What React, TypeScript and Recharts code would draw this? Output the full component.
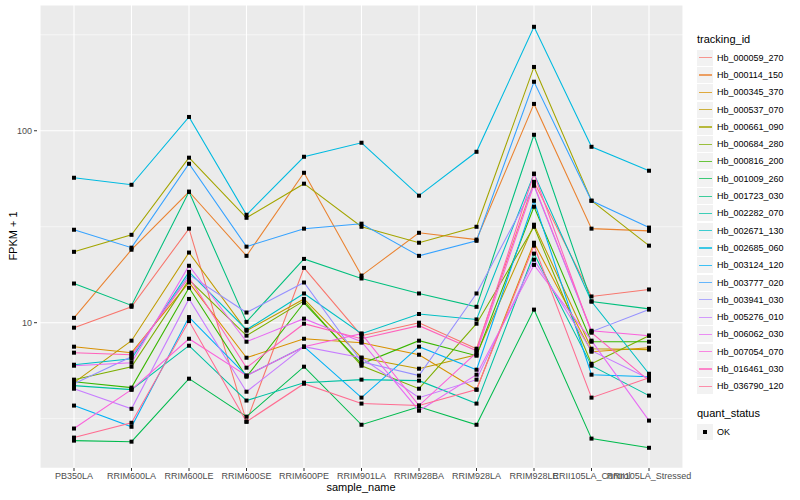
import React from 'react';
import { LineChart, Line, XAxis, YAxis, CartesianGrid } from 'recharts';

// sample names along the x axis
const samples = [
  'PB350LA', 'RRIM600LA', 'RRIM600LE', 'RRIM600SE', 'RRIM600PE', 'RRIM901LA',
  'RRIM928BA', 'RRIM928LA', 'RRIM928LE', 'RRII105LA_Control', 'RRII105LA_Stressed',
];

// FPKM + 1 per gene, one value per sample
const hb000059_270 = [9.42, 12.1, 30.9, 3.05, 19.3, 8.56, 10.0, 7.32, 54.2, 13.7, 14.9];
const hb000114_150 = [10.6, 24.0, 48.1, 22.3, 60.4, 17.6, 29.4, 27.1, 138, 30.9, 30.1];
const hb000345_370 = [7.5, 6.98, 16.2, 6.57, 8.25, 7.87, 6.81, 4.48, 26.1, 7.06, 7.41];
const hb000537_070 = [4.87, 8.06, 23.2, 9.08, 13.3, 6.57, 5.76, 6.81, 32.4, 7.32, 7.24];
const hb000661_090 = [23.4, 28.7, 72.4, 35.2, 53.0, 31.6, 26.1, 31.6, 215, 43.2, 25.2];
const hb000684_280 = [5.05, 5.9, 16.7, 8.56, 13.0, 5.97, 4.53, 9.88, 31.6, 6.11, 8.56];
const hb000816_200 = [4.93, 4.59, 15.2, 5.23, 12.7, 6.11, 8.06, 6.73, 40.2, 7.96, 7.96];
const hb001009_260 = [2.43, 2.4, 5.11, 3.24, 5.9, 2.94, 3.65, 2.94, 11.7, 2.49, 2.23];
const hb001723_030 = [16.0, 12.3, 48.1, 10.1, 21.5, 17.0, 14.2, 12.1, 95.3, 12.9, 11.8];
const hb002282_070 = [4.7, 4.48, 7.59, 3.93, 4.87, 5.05, 4.99, 3.79, 22.9, 5.97, 4.17];
const hb002671_130 = [6.04, 6.49, 18.4, 9.19, 14.2, 8.77, 11.1, 10.4, 59.7, 12.9, 5.42];
const hb002685_060 = [56.9, 52.3, 118, 36.5, 73.2, 86.6, 45.9, 77.7, 348, 82.5, 61.9];
const hb003124_120 = [3.7, 2.87, 10.7, 5.3, 7.5, 4.07, 7.5, 5.69, 43.2, 5.36, 5.23];
const hb003777_020 = [30.5, 24.6, 67.3, 24.9, 30.9, 32.8, 22.3, 26.7, 180, 43.2, 31.3];
const hb003941_030 = [4.81, 6.65, 17.8, 11.3, 16.2, 6.26, 5.3, 14.2, 51.7, 8.98, 11.7];
const hb005276_010 = [4.53, 3.56, 13.3, 4.37, 7.5, 6.57, 4.07, 5.05, 21.3, 7.15, 5.11];
const hb006062_030 = [5.97, 6.19, 19.8, 7.96, 10.5, 7.96, 3.48, 5.36, 20.0, 8.06, 3.09];
const hb007054_070 = [2.81, 4.48, 8.25, 5.3, 7.5, 8.77, 3.7, 6.98, 52.3, 9.08, 8.56];
const hb016461_030 = [6.98, 6.81, 17.2, 5.83, 9.88, 8.25, 9.65, 7.15, 59.7, 8.87, 4.99];
const hb036790_120 = [2.52, 3.01, 10.2, 3.05, 4.81, 3.79, 3.7, 4.48, 25.2, 4.07, 5.17];

const genes = [
  { id: 'Hb_000059_270', values: hb000059_270, color: '#F8766D' },
  { id: 'Hb_000114_150', values: hb000114_150, color: '#EA8331' },
  { id: 'Hb_000345_370', values: hb000345_370, color: '#D89000' },
  { id: 'Hb_000537_070', values: hb000537_070, color: '#C09B00' },
  { id: 'Hb_000661_090', values: hb000661_090, color: '#A3A500' },
  { id: 'Hb_000684_280', values: hb000684_280, color: '#7CAE00' },
  { id: 'Hb_000816_200', values: hb000816_200, color: '#39B600' },
  { id: 'Hb_001009_260', values: hb001009_260, color: '#00BB4E' },
  { id: 'Hb_001723_030', values: hb001723_030, color: '#00BF7D' },
  { id: 'Hb_002282_070', values: hb002282_070, color: '#00C1A3' },
  { id: 'Hb_002671_130', values: hb002671_130, color: '#00BFC4' },
  { id: 'Hb_002685_060', values: hb002685_060, color: '#00BAE0' },
  { id: 'Hb_003124_120', values: hb003124_120, color: '#00B0F6' },
  { id: 'Hb_003777_020', values: hb003777_020, color: '#35A2FF' },
  { id: 'Hb_003941_030', values: hb003941_030, color: '#9590FF' },
  { id: 'Hb_005276_010', values: hb005276_010, color: '#C77CFF' },
  { id: 'Hb_006062_030', values: hb006062_030, color: '#E76BF3' },
  { id: 'Hb_007054_070', values: hb007054_070, color: '#FA62DB' },
  { id: 'Hb_016461_030', values: hb016461_030, color: '#FF62BC' },
  { id: 'Hb_036790_120', values: hb036790_120, color: '#FF6C91' },
];

const yTicks = [3.1623, 10, 31.623, 100, 316.23];
const majorTicks = [10, 100];

const data = samples.map((name, i) => {
  const row: Record<string, any> = { sample_name: name };
  genes.forEach(g => { row[g.id] = g.values[i]; });
  return row;
});

const FONT = '"Liberation Sans", Arial, Helvetica, sans-serif';

// ggplot shape 15: small filled square
const SquareDot = (props: any) => {
  const { cx, cy, index, dataKey } = props;
  if (cx == null || cy == null) return null;
  return <rect key={`${dataKey}-${index}`} x={cx - 2} y={cy - 2} width={4} height={4} fill="#000" />;
};

const YTick = (props: any) => {
  const { x, y, payload } = props;
  if (!majorTicks.includes(payload.value)) return null;
  return (
    <g>
      <line x1={x + 2} x2={x + 5} y1={y} y2={y} stroke="#333" strokeWidth={1} />
      <text x={x} y={y} dy="0.34em" textAnchor="end" fontSize={9} fill="#4D4D4D" fontFamily={FONT}>
        {payload.value}
      </text>
    </g>
  );
};

const HLine = (props: any) => {
  const { x1, x2, y1, y2, index } = props;
  const major = index % 2 === 1;
  return <line key={`h-${index}`} x1={x1} x2={x2} y1={y1} y2={y2} stroke="#fff" strokeWidth={major ? 1.1 : 0.55} />;
};

const Legend = () => (
  <div style={{ position: 'absolute', left: 697, top: 33, fontFamily: FONT, color: '#000' }}>
    <div style={{ fontSize: 11, height: 16 }}>tracking_id</div>
    {genes.map(g => (
      <div key={g.id} style={{ display: 'flex', alignItems: 'center', height: 17.3 }}>
        <div style={{ width: 16, height: 16, background: '#F2F2F2', position: 'relative' }}>
          <div style={{ position: 'absolute', left: 1.5, right: 1.5, top: 7.5, height: 1.2, background: g.color, opacity: 0.75 }} />
        </div>
        <span style={{ fontSize: 9, marginLeft: 4 }}>{g.id}</span>
      </div>
    ))}
    <div style={{ fontSize: 11, marginTop: 12, height: 16 }}>quant_status</div>
    <div style={{ display: 'flex', alignItems: 'center', height: 17.3 }}>
      <div style={{ width: 16, height: 16, background: '#F2F2F2', position: 'relative' }}>
        <div style={{ position: 'absolute', left: 6, top: 6, width: 4, height: 4, background: '#000' }} />
      </div>
      <span style={{ fontSize: 9, marginLeft: 4 }}>OK</span>
    </div>
  </div>
);

export default function App() {
  return (
    <div style={{ position: 'absolute', left: 0, top: 0, width: 800, height: 500, background: '#fff', fontFamily: FONT }}>
      <LineChart width={800} height={500} data={data} margin={{ top: 5, right: 117, bottom: 12, left: 10 }}>
        <CartesianGrid fill="#EBEBEB" fillOpacity={1} stroke="#fff" strokeWidth={1.1} horizontal={HLine} />
        <XAxis
          dataKey="sample_name"
          padding={{ left: 34, right: 34 }}
          interval={0}
          axisLine={false}
          tickLine={{ stroke: '#333' }}
          tickSize={3}
          tickMargin={2}
          height={20}
          tick={{ fontSize: 9, fill: '#4D4D4D', fontFamily: FONT }}
        />
        <YAxis
          scale="log"
          type="number"
          domain={[1.75, 452]}
          allowDataOverflow
          ticks={yTicks}
          width={30}
          axisLine={false}
          tickLine={false}
          tick={<YTick />}
        />
        {genes.map(g => (
          <Line
            key={g.id}
            dataKey={g.id}
            type="linear"
            stroke={g.color}
            strokeWidth={1.07}
            dot={false}
            activeDot={false}
            isAnimationActive={false}
          />
        ))}
        {genes.map(g => (
          <Line
            key={`${g.id}-pts`}
            dataKey={g.id}
            type="linear"
            stroke="none"
            dot={<SquareDot />}
            activeDot={false}
            legendType="none"
            isAnimationActive={false}
          />
        ))}
      </LineChart>
      <div style={{ position: 'absolute', left: 361, top: 481, transform: 'translateX(-50%)', fontSize: 11, whiteSpace: 'nowrap' }}>
        sample_name
      </div>
      <div style={{ position: 'absolute', left: 13, top: 236, transform: 'translate(-50%, -50%) rotate(-90deg)', fontSize: 11, whiteSpace: 'nowrap' }}>
        FPKM + 1
      </div>
      <Legend />
    </div>
  );
}
